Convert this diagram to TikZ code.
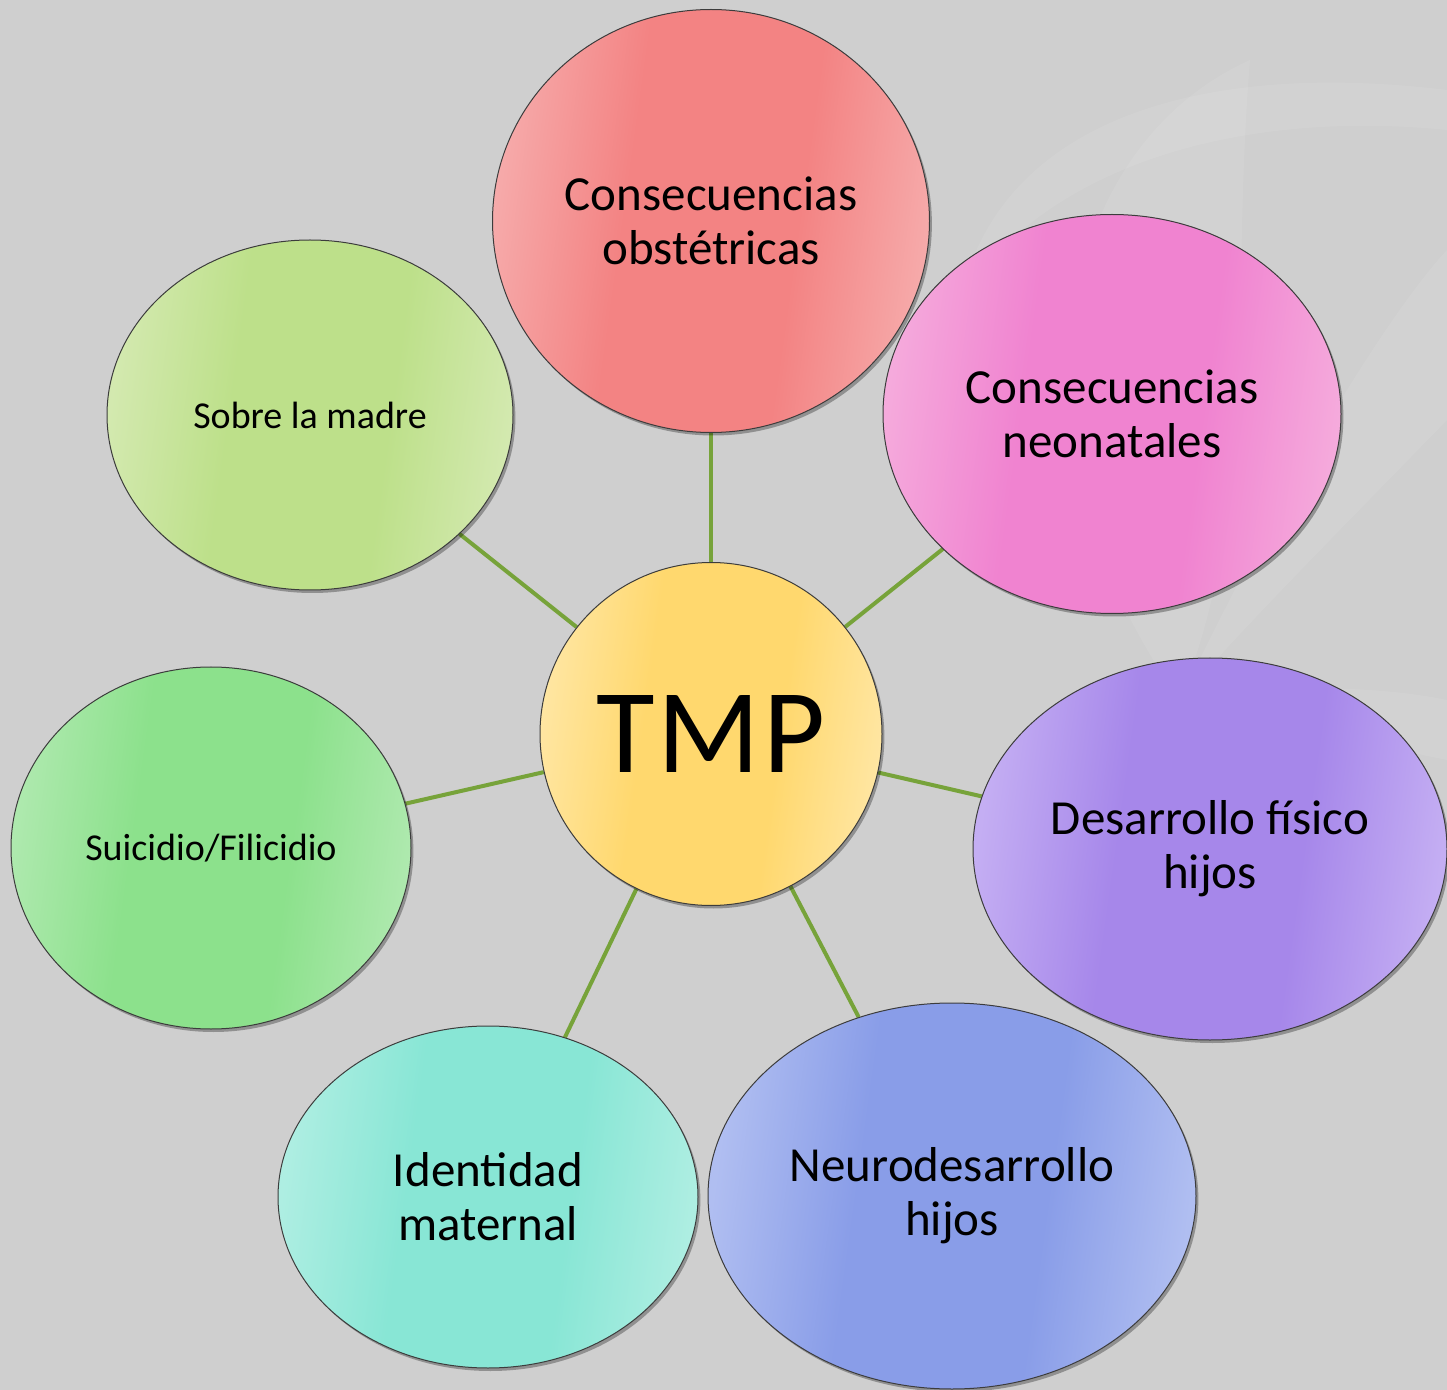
\documentclass[tikz,border=0pt]{standalone}
\usepackage{fontspec}
\setmainfont{Carlito}
\usetikzlibrary{shapes.geometric,shadows}

% palette
\definecolor{bgcol}{HTML}{CFCFCF}
\definecolor{linkcol}{HTML}{77A33A}
\definecolor{outl}{HTML}{3C3C3C}
\definecolor{obstE}{HTML}{F6AAAA}\definecolor{obstM}{HTML}{F38383}
\definecolor{neoE}{HTML}{F5AADC}\definecolor{neoM}{HTML}{F083D0}
\definecolor{desE}{HTML}{C4AEF3}\definecolor{desM}{HTML}{A687EA}
\definecolor{neuE}{HTML}{B0BEF1}\definecolor{neuM}{HTML}{899DE8}
\definecolor{ideE}{HTML}{AEEEE2}\definecolor{ideM}{HTML}{88E6D5}
\definecolor{suiE}{HTML}{AEE9AE}\definecolor{suiM}{HTML}{8CE18C}
\definecolor{sobE}{HTML}{D3E9AF}\definecolor{sobM}{HTML}{BDE08A}
\definecolor{tmpE}{HTML}{FFE6A2}\definecolor{tmpM}{HTML}{FFD86E}

% light edges, darker band across the middle
\colorlet{bubedge}{white}\colorlet{bubmid}{gray}
\pgfdeclareverticalshading[bubedge,bubmid]{bubble}{100bp}{%
  color(0bp)=(bubedge); color(25bp)=(bubedge); color(40bp)=(bubmid);
  color(60bp)=(bubmid); color(75bp)=(bubedge); color(100bp)=(bubedge)}

\pgfdeclarelayer{bg}
\pgfdeclarelayer{links}
\pgfsetlayers{bg,links,main}

\tikzset{
  bub/.style 2 args={ellipse, draw=outl, line width=0.5pt, inner sep=0pt,
    /utils/exec={\colorlet{bubedge}{#1}\colorlet{bubmid}{#2}},
    shade, shading=bubble, shading angle=82, align=center,
    drop shadow={shadow xshift=1.2pt, shadow yshift=-1.5pt, opacity=0.3, fill=black}},
  bigtext/.style={font=\fontsize{24.5pt}{27pt}\selectfont},
  smalltext/.style={font=\fontsize{19pt}{22pt}\selectfont},
  link/.style={draw=linkcol, line width=2pt},
  leaf/.style={fill=white, opacity=0.07},
}

\begin{document}
\begin{tikzpicture}[x=0.5pt, y=-0.5pt]
  \useasboundingbox (0,0) rectangle (1447,1390);
  \begin{pgfonlayer}{bg}
    \fill[bgcol] (0,0) rectangle (1447,1390);
    % faint leaf motif in the upper right
    \begin{scope}
      \clip (0,0) rectangle (1447,1390);
      \fill[leaf] (1180,700) .. controls (1000,450) and (1050,150) .. (1250,60)
                 .. controls (1230,300) and (1260,500) .. (1180,700);
      \fill[leaf] (1180,700) .. controls (1300,450) and (1400,300) .. (1447,250)
                 -- (1447,420) .. controls (1350,520) and (1250,620) .. (1180,700);
      \fill[leaf] (1180,700) .. controls (1300,680) and (1400,690) .. (1447,700)
                 -- (1447,760) .. controls (1350,740) and (1250,720) .. (1180,700);
      \fill[leaf] (960,300) .. controls (1000,120) and (1200,60) .. (1447,90)
                 -- (1447,130) .. controls (1250,110) and (1050,160) .. (960,300);
    \end{scope}
  \end{pgfonlayer}

  % outer topics
  \node[bub={neoE}{neoM}, bigtext, minimum width=229pt, minimum height=199.5pt]
    (neo) at (1112,414) {Consecuencias\\neonatales};
  \node[bub={obstE}{obstM}, bigtext, minimum width=218.5pt, minimum height=211.5pt]
    (obst) at (711,221) {Consecuencias\\obstétricas};
  \node[bub={desE}{desM}, bigtext, minimum width=237pt, minimum height=191pt]
    (des) at (1210,849) {Desarrollo físico\\hijos};
  \node[bub={neuE}{neuM}, bigtext, minimum width=244pt, minimum height=193pt]
    (neu) at (952,1196) {Neurodesarrollo\\hijos};
  \node[bub={ideE}{ideM}, bigtext, minimum width=210pt, minimum height=171pt]
    (ide) at (488,1197) {Identidad\\maternal};
  \node[bub={suiE}{suiM}, smalltext, minimum width=200pt, minimum height=181pt]
    (sui) at (211,848) {Suicidio/Filicidio};
  \node[bub={sobE}{sobM}, smalltext, minimum width=203pt, minimum height=175pt]
    (sob) at (310,415) {Sobre la madre};

  % centre
  \node[bub={tmpE}{tmpM}, font=\fontsize{60pt}{60pt}\selectfont,
        minimum width=171pt, minimum height=171.5pt]
    (tmp) at (711,734) {T\kern1.5ptM\kern1.5ptP};

  \begin{pgfonlayer}{links}
    \foreach \n in {obst,neo,des,neu,ide,sui,sob}
      \draw[link] (tmp) -- (\n);
  \end{pgfonlayer}
\end{tikzpicture}
\end{document}
